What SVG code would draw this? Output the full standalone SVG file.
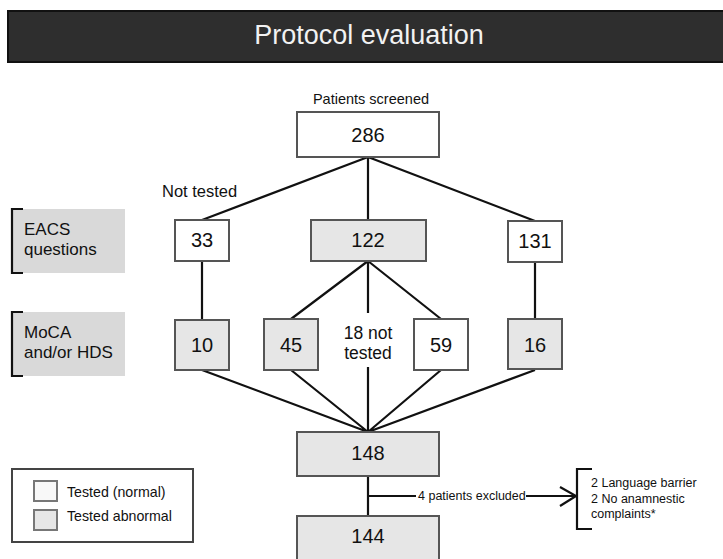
<svg xmlns="http://www.w3.org/2000/svg" width="723" height="559" viewBox="0 0 723 559">
<style>
.box{stroke:#555;stroke-width:2}
.w{fill:#ffffff}
.g{fill:#e6e6e6}
.num{font-family:"Liberation Sans",Arial,sans-serif;font-size:20px;fill:#111;text-anchor:middle}
.lbl{font-family:"Liberation Sans",Arial,sans-serif;font-size:15px;fill:#111}
.side{font-family:"Liberation Sans",Arial,sans-serif;font-size:17px;fill:#111}
.sm{font-family:"Liberation Sans",Arial,sans-serif;font-size:12.5px;fill:#111}
.ln{stroke:#111;stroke-width:2.2;fill:none}
</style>
<rect width="723" height="559" fill="#fff"/>
<g id="title">
<rect x="8" y="11" width="720" height="51" fill="#2e2e2e" stroke="#111" stroke-width="2"/>
<text x="369" y="44" font-family="Liberation Sans,Arial,sans-serif" font-size="27" fill="#f2f2f2" text-anchor="middle">Protocol evaluation</text>
</g>
<g id="connectors">
<path class="ln" d="M368 157 L202 220 M368 157 L368 220 M368 157 L535 221"/>
<path class="ln" d="M202 261 L202 320 M535 262 L535 319"/>
<path class="ln" d="M368 261 L291 319 M368 261 L441 319 M368 261 L368 313 M368 367 L368 432"/>
<path class="ln" d="M202 370 L368 432 M291 370 L368 432 M441 370 L368 432 M535 370 L368 432"/>
<path class="ln" d="M368 476 L368 516 M368 496 L416 496 M526 496 L576 496 M560 487 L576 496 L560 506"/>
</g>
<g id="eacs-label">
<rect x="13" y="209" width="112" height="64" fill="#d9d9d9"/>
<path class="ln" d="M23 209 H12 V273 H23"/>
<text class="side" x="24" y="235">EACS</text>
<text class="side" x="24" y="255">questions</text>
</g>
<g id="moca-label">
<rect x="13" y="312" width="112" height="64" fill="#d9d9d9"/>
<path class="ln" d="M23 312 H12 V376 H23"/>
<text class="side" x="24" y="338">MoCA</text>
<text class="side" x="24" y="358">and/or HDS</text>
</g>
<g id="n286">
<text class="lbl" x="371" y="104" text-anchor="middle" style="font-size:14.5px">Patients screened</text>
<rect class="box w" x="297" y="112" width="142" height="45"/>
<text class="num" x="368" y="142">286</text>
</g>
<g id="not-tested">
<text class="lbl" x="162" y="197" style="font-size:16.5px">Not tested</text>
</g>
<g id="n33">
<rect class="box w" x="175" y="220" width="54" height="41"/>
<text class="num" x="202" y="247">33</text>
</g>
<g id="n122">
<rect class="box g" x="311" y="220" width="115" height="41"/>
<text class="num" x="368" y="247">122</text>
</g>
<g id="n131">
<rect class="box w" x="508" y="221" width="54" height="41"/>
<text class="num" x="535" y="248">131</text>
</g>
<g id="n10">
<rect class="box g" x="175" y="320" width="54" height="50"/>
<text class="num" x="202" y="352">10</text>
</g>
<g id="n45">
<rect class="box g" x="264" y="319" width="54" height="51"/>
<text class="num" x="291" y="352">45</text>
</g>
<g id="n18">
<text class="lbl" x="368" y="339" text-anchor="middle" style="font-size:17.5px">18 not</text>
<text class="lbl" x="368" y="359" text-anchor="middle" style="font-size:17.5px">tested</text>
</g>
<g id="n59">
<rect class="box w" x="414" y="319" width="54" height="51"/>
<text class="num" x="441" y="352">59</text>
</g>
<g id="n16">
<rect class="box g" x="508" y="319" width="54" height="50"/>
<text class="num" x="535" y="352">16</text>
</g>
<g id="n148">
<rect class="box g" x="297" y="432" width="142" height="44"/>
<text class="num" x="368" y="460">148</text>
</g>
<g id="excluded">
<text class="sm" x="418" y="500">4 patients excluded</text>
</g>
<g id="reasons">
<path class="ln" d="M592 469 H577 V529 H592"/>
<text class="sm" x="591" y="487">2 Language barrier</text>
<text class="sm" x="591" y="503">2 No anamnestic</text>
<text class="sm" x="591" y="518">complaints*</text>
</g>
<g id="n144">
<rect class="box g" x="297" y="516" width="142" height="46"/>
<text class="num" x="368" y="543">144</text>
</g>
<g id="legend">
<rect x="12" y="469" width="181" height="73" fill="#fff" stroke="#444" stroke-width="2"/>
<rect x="34" y="481" width="23" height="20" fill="#f8f8f8" stroke="#777" stroke-width="2"/>
<rect x="34" y="510" width="23" height="20" fill="#e6e6e6" stroke="#777" stroke-width="2"/>
<text class="lbl" x="67" y="497" style="font-size:14.2px">Tested (normal)</text>
<text class="lbl" x="67" y="521" style="font-size:14.2px">Tested abnormal</text>
</g>
</svg>
